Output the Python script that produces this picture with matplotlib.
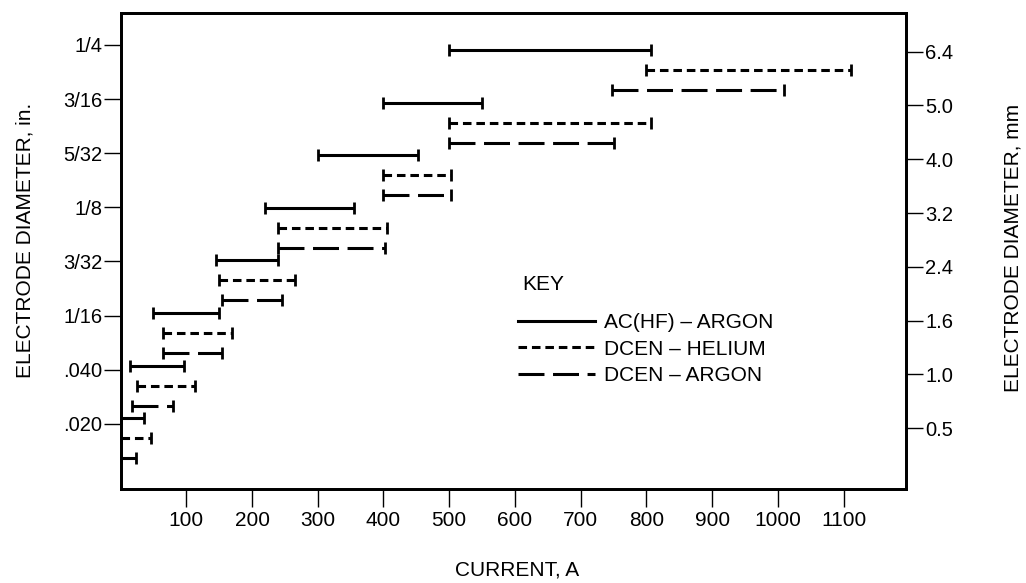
import matplotlib
matplotlib.use("Agg")
import matplotlib.pyplot as plt
from matplotlib.lines import Line2D
import numpy as np

plt.rcParams['font.family'] = ['Liberation Sans', 'DejaVu Sans']

# electrode sizes, smallest first
inch_labels = ['.020', '.040', '1/16', '3/32', '1/8', '5/32', '3/16', '1/4']
mm_labels = ['0.5', '1.0', '1.6', '2.4', '3.2', '4.0', '5.0', '6.4']
current_ticks = [100, 200, 300, 400, 500, 600, 700, 800, 900, 1000, 1100]

# current ranges (A) for each size
ac_argon_lo = [0, 15, 50, 145, 220, 300, 400, 500]
ac_argon_hi = [35, 97, 150, 240, 355, 453, 550, 807]
dcen_helium_lo = [0, 25, 65, 150, 240, 400, 500, 800]
dcen_helium_hi = [46, 113, 170, 265, 405, 503, 807, 1112]
dcen_argon_lo = [0, 17, 65, 155, 240, 400, 500, 748]
dcen_argon_hi = [24, 80, 155, 245, 402, 503, 751, 1010]

series_names = ['AC(HF) – ARGON', 'DCEN – HELIUM', 'DCEN – ARGON']


def main():
    fig = plt.figure(figsize=(10.26, 5.83), dpi=100)
    ax = fig.add_axes([0.1175, 0.161, 0.7655, 0.817])

    series = [
        (ac_argon_lo, ac_argon_hi, 0.0, '-'),
        (dcen_helium_lo, dcen_helium_hi, -0.38, (0, (2.8, 1.6))),
        (dcen_argon_lo, dcen_argon_hi, -0.76, (0, (8.5, 2.8))),
    ]
    groups = np.arange(len(inch_labels))
    for lo, hi, offset, ls in series:
        for k in groups:
            y = k + offset
            ax.plot([lo[k], hi[k]], [y, y], color='black', linestyle=ls,
                    linewidth=2.2, marker='|', markersize=8, markeredgewidth=2.0,
                    clip_on=False, solid_capstyle='butt', dash_capstyle='butt')

    ax.set_xlim(0, 1195)
    ax.set_ylim(-1.35, 7.71)
    ax.set_xticks(current_ticks)
    ax.set_xticklabels([str(t) for t in current_ticks])
    ax.tick_params(axis='x', direction='out', length=13, width=1.0,
                   labelsize=15, pad=3)

    # left axis ticks (inches)
    ax.set_yticks(-0.11 + 1.03 * groups)
    ax.set_yticklabels(inch_labels)
    ax.tick_params(axis='y', direction='out', length=12, width=1.0,
                   labelsize=14.5, pad=1)

    # right axis ticks (mm)
    ax2 = ax.twinx()
    ax2.set_ylim(ax.get_ylim())
    ax2.set_yticks(-0.19 + 1.023 * groups)
    ax2.set_yticklabels(mm_labels)
    ax2.tick_params(axis='y', direction='out', length=12, width=1.0,
                    labelsize=14.5, pad=2)

    for a in (ax, ax2):
        for side in a.spines.values():
            side.set_linewidth(2.0)

    fig.text(517 / 1026, 1 - 570 / 583, 'CURRENT, A', ha='center', va='center',
             fontsize=15)
    fig.text(25 / 1026, 1 - 240 / 583, 'ELECTRODE DIAMETER, in.', ha='center',
             va='center', rotation=90, fontsize=15)
    fig.text(1013 / 1026, 1 - 248 / 583, 'ELECTRODE DIAMETER, mm', ha='center',
             va='center', rotation=90, fontsize=15)

    # key
    fig.text(522 / 1026, 1 - 285 / 583, 'KEY', ha='left', va='center', fontsize=15)
    handles = [Line2D([], [], color='black', linewidth=2.2, linestyle=s[3])
               for s in series]
    ax.legend(handles, series_names, loc='upper left', frameon=False,
              bbox_to_anchor=(518 / 1026, 1 - 313 / 583),
              bbox_transform=fig.transFigure, fontsize=15, borderpad=0,
              borderaxespad=0, handlelength=3.7, handletextpad=0.45,
              labelspacing=0.37)

    fig.savefig('out.png', dpi=100)


if __name__ == "__main__":
    main()
